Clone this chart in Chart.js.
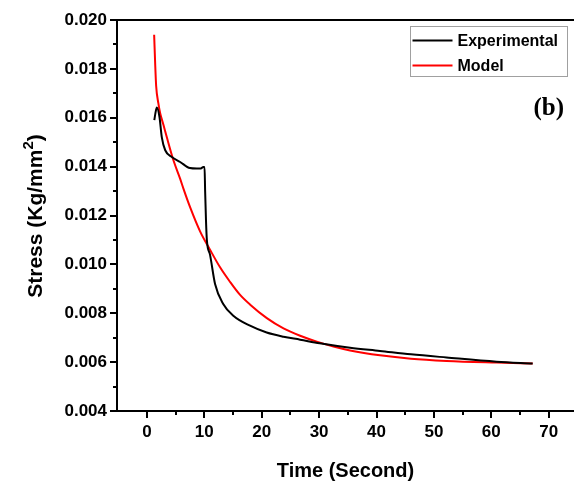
<!DOCTYPE html>
<html>
<head>
<meta charset="utf-8">
<script src="https://cdn.jsdelivr.net/npm/chart.js@4.4.1/dist/chart.umd.min.js"></script>
<style>
  html, body { margin: 0; padding: 0; background: #fff; }
  #wrap { width: 574px; height: 487px; }
</style>
</head>
<body>
<div id="wrap"><canvas id="chartStress" width="574" height="487"></canvas></div>
<script>
// Données (b)
const seriesLabels = ['Experimental', 'Model'];
const seriesColors = ['#000000', '#ff0000'];

const expTime = [1.3, 1.5, 1.74, 2.2, 2.6, 3.2, 4.35, 5.8, 7.5, 8.7, 9.3, 9.85, 10.05, 10.15, 10.3, 10.45, 11.0, 11.88, 13.3, 15.06, 17.97, 20.87, 23.8, 26.7, 30.1, 35.4, 40.6, 46.0, 52.2, 60.9, 67.2];
const expStress = [0.0159, 0.0162, 0.01642, 0.01603, 0.01521, 0.01467, 0.01439, 0.01419, 0.01394, 0.01392, 0.01392, 0.01398, 0.01398, 0.0130, 0.0118, 0.0110, 0.0104, 0.0092, 0.00838, 0.0079, 0.00749, 0.00721, 0.00704, 0.00692, 0.00677, 0.00659, 0.00646, 0.00632, 0.00619, 0.00602, 0.00594];

const modelTime = [1.27, 1.45, 1.62, 2.0, 2.31, 2.9, 3.48, 4.63, 5.79, 6.37, 7.53, 9.27, 11.0, 12.75, 14.5, 16.2, 18.0, 20.9, 23.8, 26.7, 29.6, 32.5, 35.4, 40.6, 46.0, 52.2, 60.9, 67.2];
const modelStress = [0.0194, 0.0182, 0.0173, 0.0166, 0.0162, 0.0157, 0.0152, 0.01426, 0.01351, 0.0131, 0.01234, 0.01135, 0.0106, 0.00988, 0.00928, 0.00876, 0.00835, 0.0078, 0.00738, 0.00708, 0.00684, 0.00664, 0.00648, 0.00628, 0.00614, 0.00605, 0.00598, 0.00594];

const xTicks = [0, 10, 20, 30, 40, 50, 60, 70];
const xMinorTicks = [5, 15, 25, 35, 45, 55, 65];
const yTicks = [0.004, 0.006, 0.008, 0.010, 0.012, 0.014, 0.016, 0.018, 0.020];
const yMinorTicks = [0.005, 0.007, 0.009, 0.011, 0.013, 0.015, 0.017, 0.019];

const xTitle = 'Time (Second)';
const yTitleParts = ['Stress (Kg/mm', '2', ')'];
const panelLabel = '(b)';

const FONT = '"Liberation Sans", Arial, sans-serif';

function toPoints(xs, ys) { return xs.map((x, i) => ({ x: x, y: ys[i] })); }

// Cadre haut, petites graduations, titre Y avec exposant, légende et (b)
const framePlugin = {
  id: 'frame',
  afterDraw(chart) {
    const { ctx, chartArea: { left, right, top, bottom }, scales: { x, y } } = chart;
    ctx.save();
    ctx.strokeStyle = '#000';
    ctx.lineWidth = 2;
    ctx.beginPath();
    ctx.moveTo(left - 1, top);
    ctx.lineTo(chart.width, top);
    ctx.stroke();

    ctx.beginPath();
    xMinorTicks.forEach(v => { const px = Math.round(x.getPixelForValue(v)); ctx.moveTo(px, bottom); ctx.lineTo(px, bottom + 4); });
    yMinorTicks.forEach(v => { const py = Math.round(y.getPixelForValue(v)); ctx.moveTo(left, py); ctx.lineTo(left - 4, py); });
    ctx.stroke();

    // titre de l'axe Y (exposant 2)
    ctx.save();
    ctx.translate(42, 216);
    ctx.rotate(-Math.PI / 2);
    ctx.fillStyle = '#000';
    ctx.textBaseline = 'alphabetic';
    ctx.textAlign = 'left';
    const bigFont = 'bold 21px ' + FONT, supFont = 'bold 15px ' + FONT;
    ctx.font = bigFont; const w1 = ctx.measureText(yTitleParts[0]).width; const w3 = ctx.measureText(yTitleParts[2]).width;
    ctx.font = supFont; const w2 = ctx.measureText(yTitleParts[1]).width;
    let cx = -(w1 + w2 + w3) / 2;
    ctx.font = bigFont; ctx.fillText(yTitleParts[0], cx, 0); cx += w1;
    ctx.font = supFont; ctx.fillText(yTitleParts[1], cx, -9); cx += w2;
    ctx.font = bigFont; ctx.fillText(yTitleParts[2], cx, 0);
    ctx.restore();

    // légende encadrée
    const lx = 410.5, ly = 26.5, lw = 157, lh = 50;
    ctx.lineWidth = 1;
    ctx.strokeStyle = '#a0a0a0';
    ctx.strokeRect(lx, ly, lw, lh);
    ctx.font = 'bold 16px ' + FONT;
    ctx.textBaseline = 'middle';
    ctx.textAlign = 'left';
    chart.data.datasets.forEach((ds, i) => {
      const rowY = ly + 14 + i * 25;
      ctx.strokeStyle = ds.borderColor;
      ctx.lineWidth = 2;
      ctx.beginPath();
      ctx.moveTo(lx + 2, rowY);
      ctx.lineTo(lx + 42, rowY);
      ctx.stroke();
      ctx.fillStyle = '#000';
      ctx.fillText(ds.label, lx + 47, rowY + 1);
    });

    ctx.font = 'bold 25px "Liberation Serif", "Times New Roman", serif';
    ctx.textAlign = 'right';
    ctx.fillText(panelLabel, 564, 109);
    ctx.restore();
  }
};

document.addEventListener('DOMContentLoaded', function () {
  const canvas = document.getElementById('chartStress');
  if (!(canvas instanceof HTMLCanvasElement) || typeof window.Chart === 'undefined') return;

  new Chart(canvas, {
    type: 'line',
    data: {
      datasets: [
        { label: seriesLabels[0], data: toPoints(expTime, expStress), borderColor: seriesColors[0], borderWidth: 2, pointRadius: 0, cubicInterpolationMode: 'monotone', fill: false },
        { label: seriesLabels[1], data: toPoints(modelTime, modelStress), borderColor: seriesColors[1], borderWidth: 2, pointRadius: 0, cubicInterpolationMode: 'monotone', fill: false }
      ]
    },
    options: {
      responsive: false,
      animation: false,
      devicePixelRatio: 1,
      layout: { padding: { top: 20, right: 0, left: 0, bottom: 0 } },
      plugins: { legend: { display: false }, tooltip: { enabled: false } },
      scales: {
        x: {
          type: 'linear',
          min: -5.2,
          max: 74.4,
          afterBuildTicks: (s) => { s.ticks = xTicks.map(v => ({ value: v })); },
          afterFit: (s) => { s.height = 76; },
          border: { display: true, color: '#000', width: 2 },
          grid: { drawOnChartArea: false, drawTicks: true, tickLength: 7, color: '#000', lineWidth: 2 },
          ticks: { color: '#000', font: { family: FONT, size: 17, weight: 'bold' }, padding: 4, maxRotation: 0 },
          title: { display: true, text: xTitle, color: '#000', font: { family: FONT, size: 20, weight: 'bold' }, padding: { top: 10 } }
        },
        y: {
          type: 'linear',
          min: 0.004,
          max: 0.020,
          afterBuildTicks: (s) => { s.ticks = yTicks.map(v => ({ value: v })); },
          afterFit: (s) => { s.width = 117; },
          border: { display: true, color: '#000', width: 2 },
          grid: { drawOnChartArea: false, drawTicks: true, tickLength: 7, color: '#000', lineWidth: 2 },
          ticks: { color: '#000', font: { family: FONT, size: 17, weight: 'bold' }, padding: 3, callback: (v) => Number(v).toFixed(3) },
          title: { display: false }
        }
      }
    },
    plugins: [framePlugin]
  });
});
</script>
</body>
</html>
